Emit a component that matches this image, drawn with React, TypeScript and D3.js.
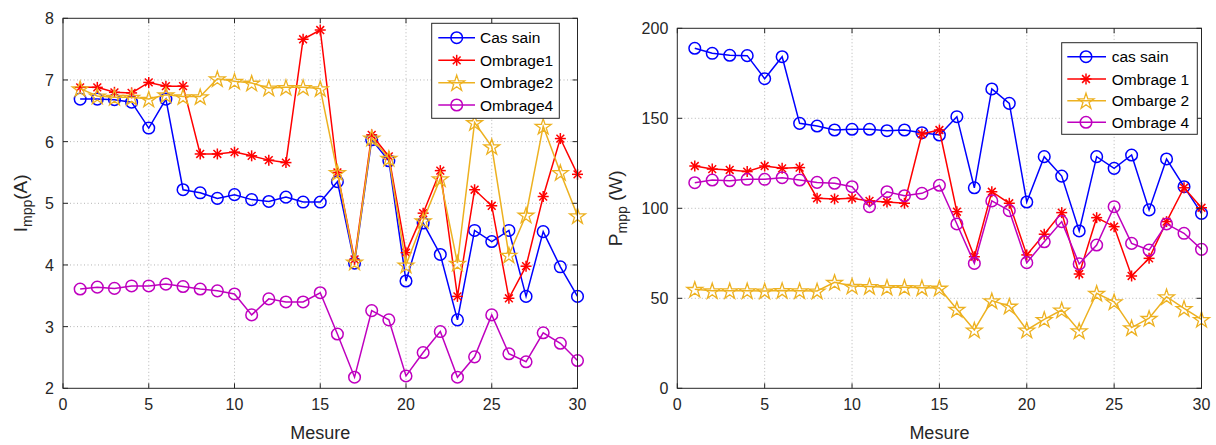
import React from "react";
import * as d3 from "d3";

const mesure = d3.range(1, 31);

// Left chart: Impp (A)
const iCasSain = [6.69, 6.69, 6.68, 6.64, 6.22, 6.69, 5.22, 5.17, 5.08, 5.14, 5.06, 5.03, 5.1, 5.02, 5.02, 5.35, 4.03, 6.03, 5.69, 3.74, 4.68, 4.17, 3.11, 4.56, 4.38, 4.56, 3.49, 4.54, 3.97, 3.49];
const iOmbrage1 = [6.88, 6.88, 6.8, 6.79, 6.96, 6.9, 6.9, 5.8, 5.8, 5.83, 5.77, 5.7, 5.66, 7.66, 7.81, 5.5, 4.09, 6.11, 5.76, 4.2, 4.84, 5.53, 3.49, 5.22, 4.96, 3.46, 3.98, 5.11, 6.05, 5.47];
const iOmbrage2 = [6.86, 6.74, 6.72, 6.72, 6.69, 6.76, 6.73, 6.73, 7.02, 6.98, 6.95, 6.87, 6.88, 6.88, 6.86, 5.5, 4.05, 6.06, 5.73, 4.0, 4.72, 5.4, 4.03, 6.31, 5.92, 4.16, 4.81, 6.25, 5.5, 4.8];
const iOmbrage4 = [3.61, 3.64, 3.62, 3.66, 3.66, 3.69, 3.65, 3.61, 3.58, 3.53, 3.19, 3.45, 3.4, 3.4, 3.55, 2.88, 2.18, 3.26, 3.11, 2.2, 2.58, 2.92, 2.18, 2.51, 3.19, 2.56, 2.43, 2.9, 2.73, 2.45];

// Right chart: Pmpp (W)
const pCasSain = [188.9, 186.1, 185, 184.8, 172, 184.2, 147.2, 145.7, 143.5, 143.9, 143.9, 143.1, 143.5, 142, 140.7, 150.9, 111.4, 166.3, 158.3, 103.5, 128.7, 117.9, 87.4, 128.7, 122.2, 129.6, 99.1, 127.4, 112, 97.2];
const pOmbrage1 = [123.5, 121.8, 121.3, 120.4, 123.5, 122.2, 122.6, 105.6, 105.2, 105.6, 104.1, 103.5, 102.8, 141.3, 143.5, 98.1, 73.1, 109.2, 102.8, 74.1, 85.6, 97.6, 63.5, 94.8, 89.8, 62.4, 72.2, 92.6, 111.4, 100.3];
const pOmbarge2 = [55, 54.2, 54.2, 54.2, 54.1, 54.4, 54.2, 54.1, 58.9, 56.8, 56.6, 56.1, 56.1, 55.9, 55.7, 43.9, 32.4, 48.7, 45.7, 32.4, 38.3, 43.5, 32, 52.8, 48.1, 33.7, 38.9, 50.9, 44.4, 38.3];
const pOmbrage4 = [114.2, 115.7, 115.3, 116.1, 116.1, 117, 115.7, 114.4, 113.9, 112, 100.9, 109.2, 107, 108.3, 112.8, 91.3, 69.4, 104.1, 98.7, 69.8, 81.4, 92.6, 69.1, 79.6, 100.9, 80.5, 76.8, 91.3, 86.1, 77.2];

const xTicks = [0, 5, 10, 15, 20, 25, 30];
const iTicks = [2, 3, 4, 5, 6, 7, 8];
const pTicks = [0, 50, 100, 150, 200];

const leftNames = ["Cas sain", "Ombrage1", "Ombrage2", "Ombrage4"];
const rightNames = ["cas sain", "Ombrage 1", "Ombarge 2", "Ombrage 4"];

const COLORS = ["#0000FF", "#FF0000", "#EDB120", "#BF00BF"];
const MARKERS = ["circle", "asterisk", "star", "circle"];
const FONT = "'Liberation Sans', Arial, Helvetica, sans-serif";
const AX = "#262626";

const starPath = d3.symbol().type(d3.symbolStar).size(78)() as string;

function Marker({ kind, x, y, color }: { kind: string; x: number; y: number; color: string }) {
  if (kind === "circle") {
    return <circle cx={x} cy={y} r={5.8} fill="none" stroke={color} strokeWidth={1.5} />;
  }
  if (kind === "asterisk") {
    const r = 5.5;
    const d = r * Math.SQRT1_2;
    return (
      <g stroke={color} strokeWidth={1.5}>
        <line x1={x - r} y1={y} x2={x + r} y2={y} />
        <line x1={x} y1={y - r} x2={x} y2={y + r} />
        <line x1={x - d} y1={y - d} x2={x + d} y2={y + d} />
        <line x1={x - d} y1={y + d} x2={x + d} y2={y - d} />
      </g>
    );
  }
  return <path d={starPath} transform={`translate(${x},${y + 0.8})`} fill="none" stroke={color} strokeWidth={1.3} />;
}

type ChartProps = {
  x0: number; x1: number; y0: number; y1: number;
  yDomain: [number, number];
  yTicks: number[];
  series: number[][];
  names: string[];
  legend: { x: number; y: number; w: number; h: number; rows: number[]; lx0: number; lx1: number; mx: number; tx: number };
  ylabelMain: string;
  ylabelSub: string;
  ylabelTail: string;
  ylabelX: number;
};

function Chart(p: ChartProps) {
  const x = d3.scaleLinear().domain([0, 30]).range([p.x0, p.x1]);
  const y = d3.scaleLinear().domain(p.yDomain).range([p.y1, p.y0]);
  const line = d3.line<number>().x((_, i) => x(mesure[i])).y((v) => y(v));
  const tl = 5;
  const cy = (p.y0 + p.y1) / 2;
  return (
    <g>
      {xTicks.slice(1, -1).map((t) => (
        <line key={"gx" + t} x1={x(t)} x2={x(t)} y1={p.y0} y2={p.y1} stroke="#b5b5b5" strokeWidth={1} strokeDasharray="1 2.5" />
      ))}
      {p.yTicks.slice(1, -1).map((t) => (
        <line key={"gy" + t} x1={p.x0} x2={p.x1} y1={y(t)} y2={y(t)} stroke="#b5b5b5" strokeWidth={1} strokeDasharray="1 2.5" />
      ))}
      {p.series.map((s, k) => (
        <g key={"s" + k}>
          <path d={line(s) as string} fill="none" stroke={COLORS[k]} strokeWidth={1.5} />
          {s.map((v, i) => (
            <Marker key={i} kind={MARKERS[k]} x={x(mesure[i])} y={y(v)} color={COLORS[k]} />
          ))}
        </g>
      ))}
      <rect x={p.x0} y={p.y0} width={p.x1 - p.x0} height={p.y1 - p.y0} fill="none" stroke={AX} strokeWidth={1} />
      {xTicks.map((t) => (
        <g key={"tx" + t}>
          <line x1={x(t)} x2={x(t)} y1={p.y1} y2={p.y1 - tl} stroke={AX} />
          <line x1={x(t)} x2={x(t)} y1={p.y0} y2={p.y0 + tl} stroke={AX} />
          <text x={x(t)} y={p.y1 + 22} textAnchor="middle" fontSize={16} fill={AX} fontFamily={FONT}>{t}</text>
        </g>
      ))}
      {p.yTicks.map((t) => (
        <g key={"ty" + t}>
          <line x1={p.x0} x2={p.x0 + tl} y1={y(t)} y2={y(t)} stroke={AX} />
          <line x1={p.x1} x2={p.x1 - tl} y1={y(t)} y2={y(t)} stroke={AX} />
          <text x={p.x0 - 9} y={y(t) + 6} textAnchor="end" fontSize={16} fill={AX} fontFamily={FONT}>{t}</text>
        </g>
      ))}
      <text x={(p.x0 + p.x1) / 2} y={p.y1 + 51} textAnchor="middle" fontSize={18} fill={AX} fontFamily={FONT}>Mesure</text>
      <text transform={`translate(${p.ylabelX},${cy}) rotate(-90)`} textAnchor="middle" fontSize={19} fill={AX} fontFamily={FONT}>
        {p.ylabelMain}
        <tspan fontSize={14} dy={5}>{p.ylabelSub}</tspan>
        <tspan dy={-5}>{p.ylabelTail}</tspan>
      </text>
      <rect x={p.legend.x} y={p.legend.y} width={p.legend.w} height={p.legend.h} fill="#fff" stroke={AX} strokeWidth={1} />
      {p.names.map((n, k) => (
        <g key={"l" + k}>
          <line x1={p.legend.lx0} x2={p.legend.lx1} y1={p.legend.rows[k]} y2={p.legend.rows[k]} stroke={COLORS[k]} strokeWidth={1.5} />
          <Marker kind={MARKERS[k]} x={p.legend.mx} y={p.legend.rows[k]} color={COLORS[k]} />
          <text x={p.legend.tx} y={p.legend.rows[k] + 5.5} fontSize={15.5} fill="#000" fontFamily={FONT}>{n}</text>
        </g>
      ))}
    </g>
  );
}

export default function App() {
  return (
    <svg width={1216} height={445} style={{ position: "absolute", left: 0, top: 0, background: "#fff" }}>
      <rect width={1216} height={445} fill="#fff" />
      <Chart
        x0={63} x1={577.5} y0={18.3} y1={388.3}
        yDomain={[2, 8]} yTicks={iTicks}
        series={[iCasSain, iOmbrage1, iOmbrage2, iOmbrage4]}
        names={leftNames}
        legend={{ x: 431.7, y: 23.3, w: 127.6, h: 95, rows: [37.7, 60.3, 82.7, 105], lx0: 438.3, lx1: 475, mx: 456.7, tx: 480 }}
        ylabelMain="I" ylabelSub="mpp" ylabelTail="(A)" ylabelX={27}
      />
      <Chart
        x0={677.3} x1={1201.5} y0={28.3} y1={388.3}
        yDomain={[0, 200]} yTicks={pTicks}
        series={[pCasSain, pOmbrage1, pOmbarge2, pOmbrage4]}
        names={rightNames}
        legend={{ x: 1061.7, y: 42.7, w: 135.6, h: 91.6, rows: [56.7, 79, 100.7, 122.3], lx0: 1067.3, lx1: 1106, mx: 1086, tx: 1111.7 }}
        ylabelMain="P" ylabelSub="mpp" ylabelTail=" (W)" ylabelX={622}
      />
    </svg>
  );
}
